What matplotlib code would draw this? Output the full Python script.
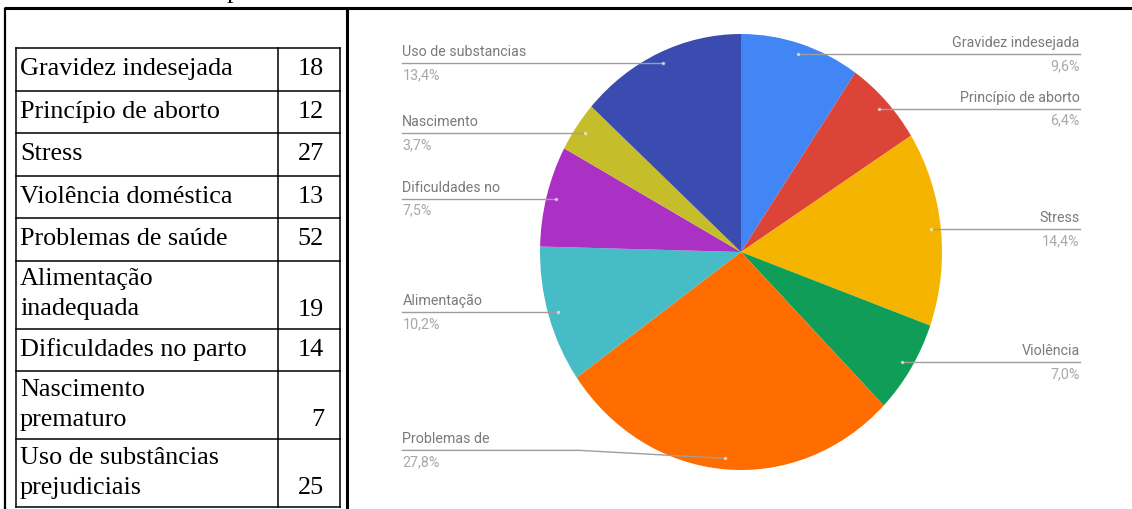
import matplotlib.pyplot as plt
import numpy as np

# table rows (left) and the pie built from the same counts
table_labels = ["Gravidez indesejada", "Princípio de aborto", "Stress",
                "Violência doméstica", "Problemas de saúde",
                "Alimentação\ninadequada", "Dificuldades no parto",
                "Nascimento\nprematuro", "Uso de substâncias\nprejudiciais"]
counts = [18, 12, 27, 13, 52, 19, 14, 7, 25]
pie_labels = ["Gravidez indesejada", "Princípio de aborto", "Stress", "Violência",
              "Problemas de", "Alimentação", "Dificuldades no", "Nascimento",
              "Uso de substancias"]
colors = ["#4285F4", "#DB4437", "#F4B400", "#0F9D58", "#FF6D00",
          "#46BDC6", "#AB30C4", "#C6BD2B", "#3B4CB0"]

W, H = 1132, 509
fig = plt.figure(figsize=(W / 100, H / 100), dpi=100)

# page layer in pixel coordinates
page = fig.add_axes([0, 0, 1, 1])
page.set_xlim(0, W)
page.set_ylim(H, 0)
page.axis("off")

serif = "Liberation Serif"
thick = 2.2
thin = 1.1

# caption line cut off above the frame
page.text(233, -2, "p", family=serif, fontsize=19, ha="center", va="baseline")

# outer frame
page.plot([4, W], [8, 8], color="black", lw=thick, solid_capstyle="butt")
page.plot([5, 5], [8, H], color="black", lw=1.6, solid_capstyle="butt")
page.plot([347, 347], [8, H], color="black", lw=thick, solid_capstyle="butt")

# data table
x0, x1, x2 = 16, 278, 340
top = 48
row_h = {1: 42.5, 2: 68}
y = top
page.plot([x0, x2], [y, y], color="black", lw=thin)
for lab, n in zip(table_labels, counts):
    lines = lab.split("\n")
    h = row_h[len(lines)]
    yc = y + h / 2
    offs = [0] if len(lines) == 1 else [-15, 15]
    for ln, off in zip(lines, offs):
        page.text(x0 + 4, yc + off, ln, family=serif, fontsize=18.8,
                  ha="left", va="center")
    page.text(x2 - 16, yc + offs[-1], str(n), family=serif, fontsize=18.8,
              ha="right", va="center")
    y += h
    page.plot([x0, x2], [y, y], color="black", lw=thin)
for xv in (x0, x1, x2):
    page.plot([xv, xv], [top, y], color="black", lw=thin)

# pie chart, slightly taller than wide
cx, cy, rx, ry = 741, 252, 201, 218
pie_ax = fig.add_axes([(cx - rx) / W, (H - (cy + ry)) / H, 2 * rx / W, 2 * ry / H])
wedges, _ = pie_ax.pie(counts, colors=colors, startangle=90, counterclock=False,
                       wedgeprops=dict(linewidth=0))
pie_ax.set_aspect("auto")
pie_ax.set_xlim(-1, 1)
pie_ax.set_ylim(-1, 1)
pie_ax.axis("off")

total = sum(counts)
lab_x = 1.685
px_y = 1 / ry
for w, name, n in zip(wedges, pie_labels, counts):
    mid = np.deg2rad((w.theta1 + w.theta2) / 2)
    dx, dy = 0.95 * np.cos(mid), 0.95 * np.sin(mid)
    ly = max(dy, -0.91)
    side = 1 if dx > 0 else -1
    tx = side * lab_x
    if ly != dy:
        ex = tx + 0.55 * (dx - tx)
        xs, ys = [tx, ex, dx], [ly, ly, dy]
    else:
        xs, ys = [tx, dx], [ly, dy]
    pie_ax.plot(xs, ys, color="#9e9e9e", lw=1.0, clip_on=False)
    pie_ax.plot(dx, dy, "o", ms=2.5, color="white", alpha=0.6, mec="none")
    ha = "right" if side > 0 else "left"
    pct = f"{n / total * 100:.1f}%".replace(".", ",")
    pie_ax.text(tx, ly + 11 * px_y, name, family="Roboto", fontsize=10.3,
                color="#7a7a7a", ha=ha, va="center", clip_on=False)
    pie_ax.text(tx, ly - 12 * px_y, pct, family="Roboto", fontsize=10.3,
                color="#a8a8a8", ha=ha, va="center", clip_on=False)

fig.savefig("out.png", dpi=100)
